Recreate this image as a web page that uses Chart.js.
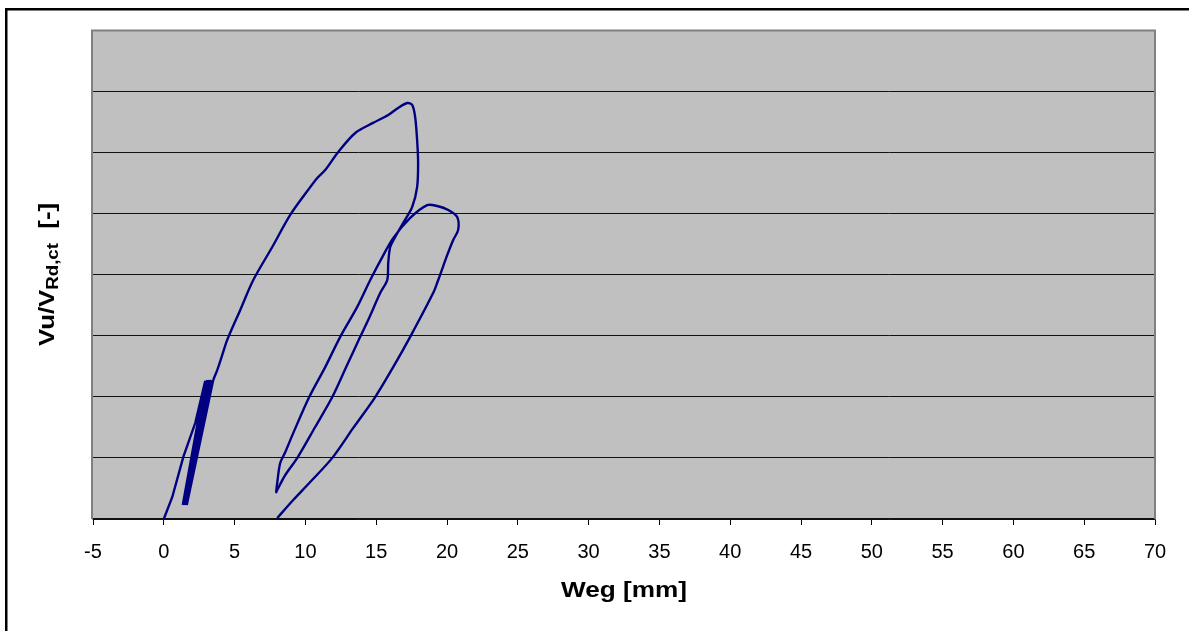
<!DOCTYPE html>
<html><head><meta charset="utf-8">
<script src="https://cdn.jsdelivr.net/npm/chart.js@4.4.1/dist/chart.umd.min.js"></script>
<style>html,body{margin:0;padding:0;background:#fff;overflow:hidden}#wrap{position:relative;width:1189px;height:631px}</style>
</head><body><div id="wrap"><canvas id="c" width="1189" height="631"></canvas></div>
<script>
// Weg [mm] (x) and Vu/VRd,ct [-] (y)
const weg = [0, 0.60, 1.38, 2.22, 2.93,
  1.34, 3.07, 1.43, 3.21, 1.52, 3.35, 1.62, 3.49,
  3.78, 4.13, 4.48, 5.40, 6.32, 7.66, 8.93, 10.34, 10.84, 11.40, 12.32, 13.52, 14.78, 15.85, 16.55, 17.19, 17.54, 17.75, 17.89, 17.96, 17.89, 17.54, 16.91, 16.34, 15.99, 15.85, 15.78,
  15.29, 14.50, 13.87, 12.88, 11.90, 10.69, 9.43, 8.58, 8.01, 7.94,
  8.01, 8.22, 8.58, 9.14, 10.27, 11.40, 12.46, 13.66, 14.58, 15.43, 16.20, 17.40, 18.60, 19.31, 20.09, 20.72, 20.79, 20.44, 20.02, 19.38, 19.03, 17.40, 16.20, 14.93, 13.38, 11.90, 10.34, 9.14, 8.01];
const vu = [0, 0.072, 0.203, 0.314, 0.452,
  0.046, 0.455, 0.046, 0.455, 0.046, 0.455, 0.046, 0.455,
  0.488, 0.537, 0.586, 0.684, 0.782, 0.890, 0.995, 1.086, 1.116, 1.142, 1.201, 1.263, 1.296, 1.322, 1.345, 1.361, 1.355, 1.316, 1.240, 1.165, 1.086, 1.021, 0.969, 0.923, 0.890, 0.838, 0.782,
  0.740, 0.658, 0.596, 0.497, 0.399, 0.301, 0.200, 0.144, 0.095, 0.088,
  0.118, 0.183, 0.219, 0.281, 0.399, 0.497, 0.596, 0.694, 0.782, 0.857, 0.919, 0.985, 1.027, 1.024, 1.011, 0.988, 0.946, 0.913, 0.864, 0.782, 0.740, 0.596, 0.497, 0.399, 0.298, 0.200, 0.121, 0.062, 0.003];
const cycleEnd = 12; // index where the small load cycles end and the big loops begin
const xTicks = [-5, 0, 5, 10, 15, 20, 25, 30, 35, 40, 45, 50, 55, 60, 65, 70];
const yGrid = [0, 0.2, 0.4, 0.6, 0.8, 1.0, 1.2, 1.4, 1.6];
const xTitle = 'Weg [mm]';
const yTitleMain = 'Vu/V', yTitleSub = 'Rd,ct', yTitleTail = '  [-]';

const FONT = '"Liberation Sans", Arial, sans-serif';
const pts = weg.map((x, i) => ({ x: x, y: vu[i] }));

const deco = {
  id: 'deco',
  beforeDraw(chart) {
    const { ctx, chartArea: a } = chart;
    ctx.save();
    ctx.fillStyle = '#fff';
    ctx.fillRect(0, 0, chart.width, chart.height);
    ctx.fillStyle = '#c0c0c0';
    ctx.fillRect(a.left, a.top, a.right - a.left, a.bottom - a.top);
    ctx.fillStyle = '#000';
    ctx.fillRect(5, 8, 2.5, chart.height);
    ctx.fillRect(5, 8, chart.width, 2.5);
    ctx.restore();
  },
  beforeDatasetsDraw(chart) {
    const { ctx, chartArea: a } = chart;
    ctx.save();
    ctx.strokeStyle = '#808080';
    ctx.lineWidth = 2;
    ctx.beginPath();
    ctx.moveTo(a.left - 1, a.bottom);
    ctx.lineTo(a.left - 1, a.top + 0.5);
    ctx.lineTo(a.right, a.top + 0.5);
    ctx.lineTo(a.right, a.bottom);
    ctx.stroke();
    ctx.restore();
  },
  afterDraw(chart) {
    const { ctx, chartArea: a } = chart;
    ctx.save();
    ctx.fillStyle = '#000';
    ctx.font = 'bold 22px ' + FONT;
    ctx.textAlign = 'center';
    ctx.textBaseline = 'alphabetic';
    ctx.save();
    ctx.translate((a.left + a.right) / 2, 597);
    ctx.scale(1.19, 1);
    ctx.fillText(xTitle, 0, 0);
    ctx.restore();
    const mainF = 'bold 22px ' + FONT, subF = 'bold 16px ' + FONT;
    ctx.font = mainF; const wM = ctx.measureText(yTitleMain).width;
    const wT = ctx.measureText(yTitleTail).width;
    ctx.font = subF; const wS = ctx.measureText(yTitleSub).width;
    const tot = wM + wS + wT;
    ctx.translate(54, (a.top + a.bottom) / 2);
    ctx.rotate(-Math.PI / 2);
    ctx.scale(1.17, 1);
    ctx.textAlign = 'left';
    const s = -tot / 2;
    ctx.font = mainF; ctx.fillText(yTitleMain, s, 0);
    ctx.font = subF; ctx.fillText(yTitleSub, s + wM, 4);
    ctx.font = mainF; ctx.fillText(yTitleTail, s + wM + wS, 0);
    ctx.restore();
  }
};

const lineStyle = { showLine: true, borderColor: '#000080', backgroundColor: '#000080', borderWidth: 2.4, pointRadius: 0, fill: false };

new Chart(document.getElementById('c'), {
  type: 'scatter',
  data: {
    datasets: [
      Object.assign({ data: pts.slice(0, cycleEnd + 1), tension: 0 }, lineStyle),
      Object.assign({ data: pts.slice(cycleEnd), tension: 0.3 }, lineStyle)
    ]
  },
  options: {
    responsive: false,
    animation: false,
    devicePixelRatio: 1,
    layout: { padding: { left: 0, right: 34, top: 30, bottom: 0 } },
    plugins: { legend: { display: false }, tooltip: { enabled: false } },
    scales: {
      x: {
        type: 'linear', min: -5, max: 70,
        afterBuildTicks: s => { s.ticks = xTicks.map(v => ({ value: v })); },
        afterFit: s => { s.height = 112; },
        ticks: { font: { family: FONT, size: 20 }, color: '#000', padding: 15, maxRotation: 0, autoSkip: false },
        grid: { drawOnChartArea: false, drawTicks: true, tickLength: 6, color: '#000', lineWidth: 1 },
        border: { display: true, color: '#111', width: 1.5 }
      },
      y: {
        type: 'linear', min: 0, max: 1.6,
        afterBuildTicks: s => { s.ticks = yGrid.map(v => ({ value: v })); },
        afterFit: s => { s.width = 93; },
        ticks: { display: false },
        grid: { color: '#111', lineWidth: 1, drawTicks: false },
        border: { display: false }
      }
    }
  },
  plugins: [deco]
});
</script></body></html>
